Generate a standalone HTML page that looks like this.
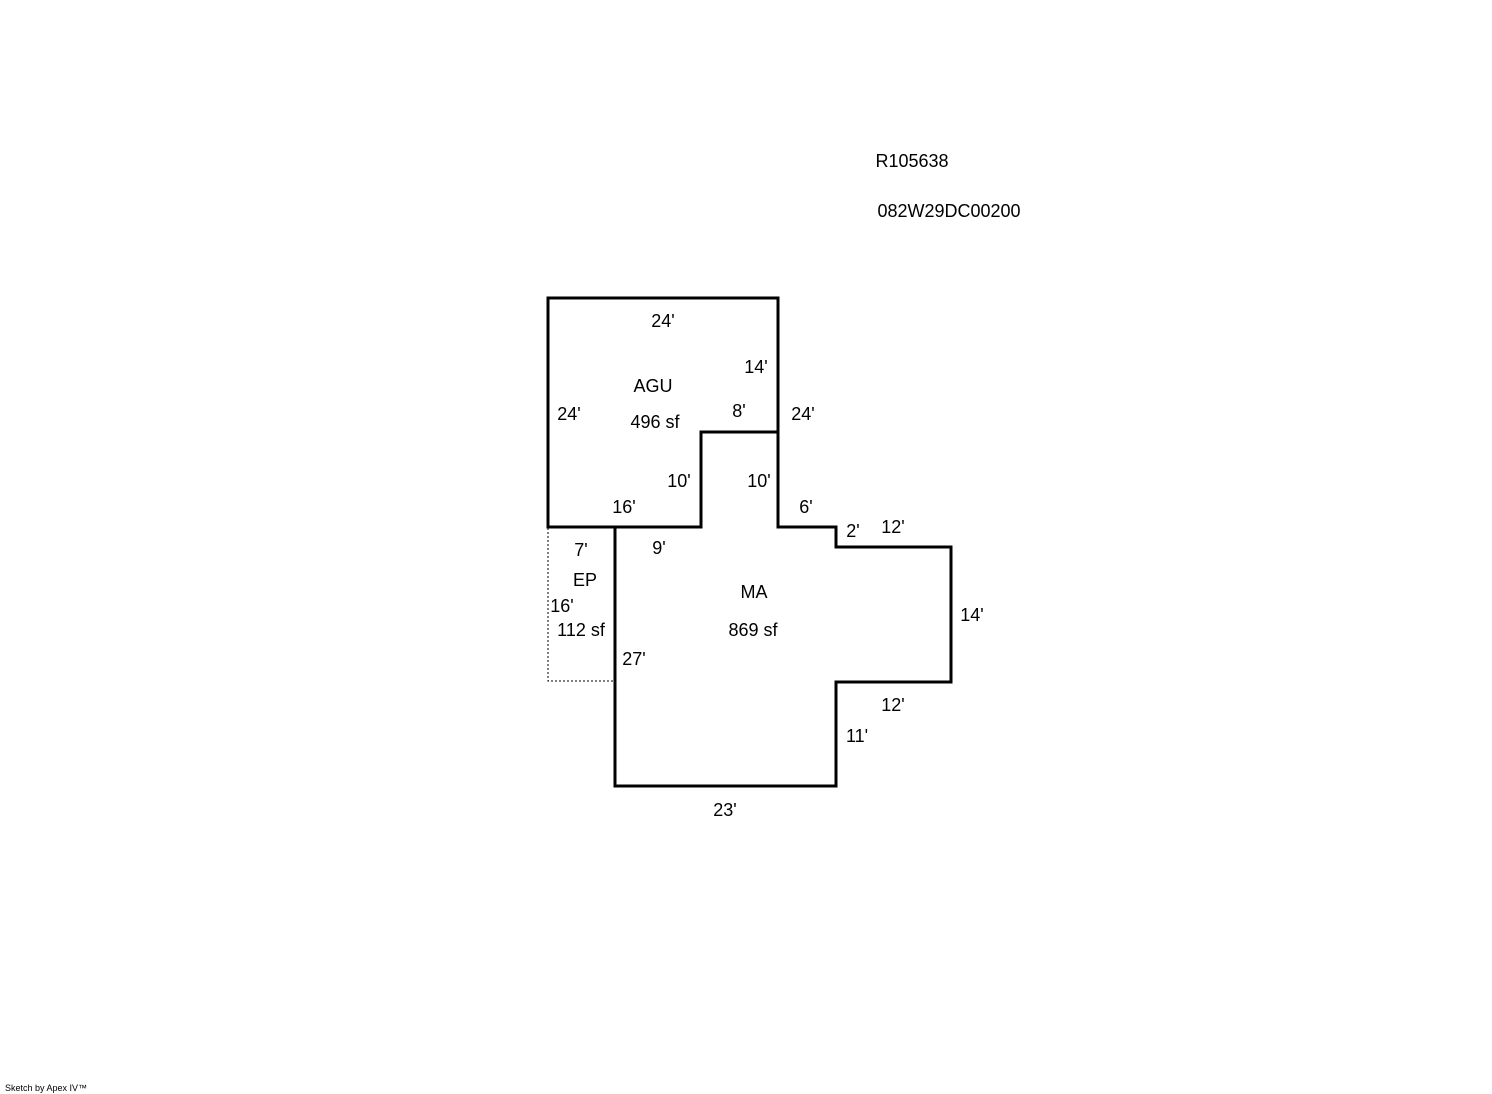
<!DOCTYPE html>
<html><head><meta charset="utf-8"><style>
html,body{margin:0;padding:0;background:#fff;}
svg{display:block}
text{font-family:"Liberation Sans",Arial,sans-serif;font-size:18px;fill:#000}
</style></head><body>
<svg width="1492" height="1094" viewBox="0 0 1492 1094" xmlns="http://www.w3.org/2000/svg">
<g stroke="#000" stroke-width="3" fill="none" stroke-linecap="square">
<path d="M548,298 H778 V527 H836 V547 H951 V682 H836 V786 H615 V527"/>
<path d="M548,298 V527 H701 V432 H778"/>
</g>
<path d="M548,528 V681 H614" stroke="#000" stroke-width="1" stroke-dasharray="2,2" fill="none"/>
<g text-anchor="middle">
<text x="912" y="167">R105638</text>
<text x="949" y="217">082W29DC00200</text>
<text x="663" y="327">24'</text>
<text x="756" y="373">14'</text>
<text x="653" y="392">AGU</text>
<text x="569" y="420">24'</text>
<text x="739" y="417">8'</text>
<text x="803" y="420">24'</text>
<text x="655" y="428">496 sf</text>
<text x="679" y="487">10'</text>
<text x="759" y="487">10'</text>
<text x="624" y="513">16'</text>
<text x="806" y="513">6'</text>
<text x="853" y="537">2'</text>
<text x="893" y="533">12'</text>
<text x="581" y="556">7'</text>
<text x="659" y="554">9'</text>
<text x="585" y="586">EP</text>
<text x="754" y="598">MA</text>
<text x="562" y="612">16'</text>
<text x="972" y="621">14'</text>
<text x="581" y="636">112 sf</text>
<text x="753" y="636">869 sf</text>
<text x="634" y="665">27'</text>
<text x="893" y="711">12'</text>
<text x="857" y="742">11'</text>
<text x="725" y="816">23'</text>
</g>
<text x="5" y="1091" style="font-size:9px">Sketch by Apex IV™</text>
</svg>
</body></html>
